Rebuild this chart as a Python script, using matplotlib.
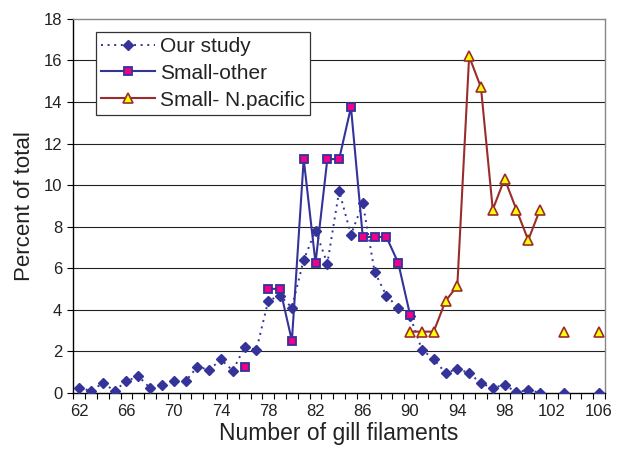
import numpy as np
import matplotlib
matplotlib.use('Agg')
import matplotlib.pyplot as plt

plt.rcParams['font.family'] = ['Liberation Sans', 'DejaVu Sans']

nan = np.nan

# Our study (62..101, 103, 106)
our_x = list(range(62, 102)) + [102, 103, 104, 105, 106]
our_y = [0.22, 0.1, 0.45, 0.1, 0.55, 0.8, 0.22, 0.35, 0.55, 0.55,
         1.25, 1.1, 1.6, 1.06, 2.2, 2.07, 4.43, 4.67, 4.1, 6.4,
         7.8, 6.22, 9.72, 7.6, 9.13, 5.82, 4.67, 4.1, 3.7, 2.07,
         1.62, 0.95, 1.14, 0.95, 0.45, 0.23, 0.38, 0.02, 0.13, 0.0,
         nan, 0.0, nan, nan, 0.0]

# Small-other
other_x = list(range(76, 91))
other_y = [1.25, nan, 5.0, 5.0, 2.5, 11.25, 6.25, 11.25, 11.25, 13.75,
           7.5, 7.5, 7.5, 6.25, 3.75]

# Small- N.pacific
pac_x = list(range(90, 107))
pac_y = [2.94, 2.94, 2.94, 4.41, 5.15, 16.2, 14.7, 8.82, 10.3, 8.82,
         7.35, 8.82, nan, 2.94, nan, nan, 2.94]

fig = plt.figure(figsize=(6.18, 4.51), dpi=100)
ax = fig.add_axes([0.1186, 0.1293, 0.8604, 0.8287])

navy = '#333399'
ax.plot(our_x, our_y, color=navy, linestyle=(0, (1, 2.4)), lw=1.4,
        marker='D', ms=5.5, mfc=navy, mec=navy, label='Our study', zorder=3)
ax.plot(other_x, other_y, color=navy, lw=1.5, marker='s', ms=6,
        mfc='#EE0088', mec=navy, mew=1.3, label='Small-other', zorder=4)
ax.plot(pac_x, pac_y, color='#9B2C2C', lw=1.5, marker='^', ms=7.5,
        mfc='#FFFF00', mec='#9B2C2C', mew=1.2, label='Small- N.pacific', zorder=5)

ax.set_xlim(61.5, 106.5)
ax.set_ylim(0, 18)
ax.set_xticks(range(62, 107, 4))
ax.set_xticks(np.arange(61.5, 107, 1), minor=True)
ax.set_yticks(range(0, 19, 2))
ax.tick_params(axis='x', which='major', length=0, labelsize=12, pad=8, labelcolor='#222222')
ax.tick_params(axis='x', which='minor', length=4, width=0.8, direction='out')
ax.tick_params(axis='y', length=4, width=0.8, labelsize=12, pad=4, labelcolor='#222222')

for v in range(2, 18, 2):
    ax.axhline(v, color='#222222', lw=0.8, zorder=1)

ax.spines['left'].set_color('black')
ax.spines['bottom'].set_color('black')
ax.spines['right'].set_color('#888888')
ax.spines['top'].set_color('#888888')
for s in ax.spines.values():
    s.set_linewidth(1.0)

ax.set_xlabel('Number of gill filaments', fontsize=16.5, labelpad=2, color='#222222')
ax.set_ylabel('Percent of total', fontsize=16, labelpad=6, color='#222222')

leg = ax.legend(loc='upper left', bbox_to_anchor=(0.042, 0.966), borderaxespad=0,
                fontsize=15, fancybox=False, framealpha=1, edgecolor='#333333',
                handlelength=2.6, handletextpad=0.25, labelspacing=0.38,
                borderpad=0.25)
leg.get_frame().set_linewidth(0.9)
for t in leg.get_texts():
    t.set_color('#222222')

fig.savefig('out.png', dpi=100)
